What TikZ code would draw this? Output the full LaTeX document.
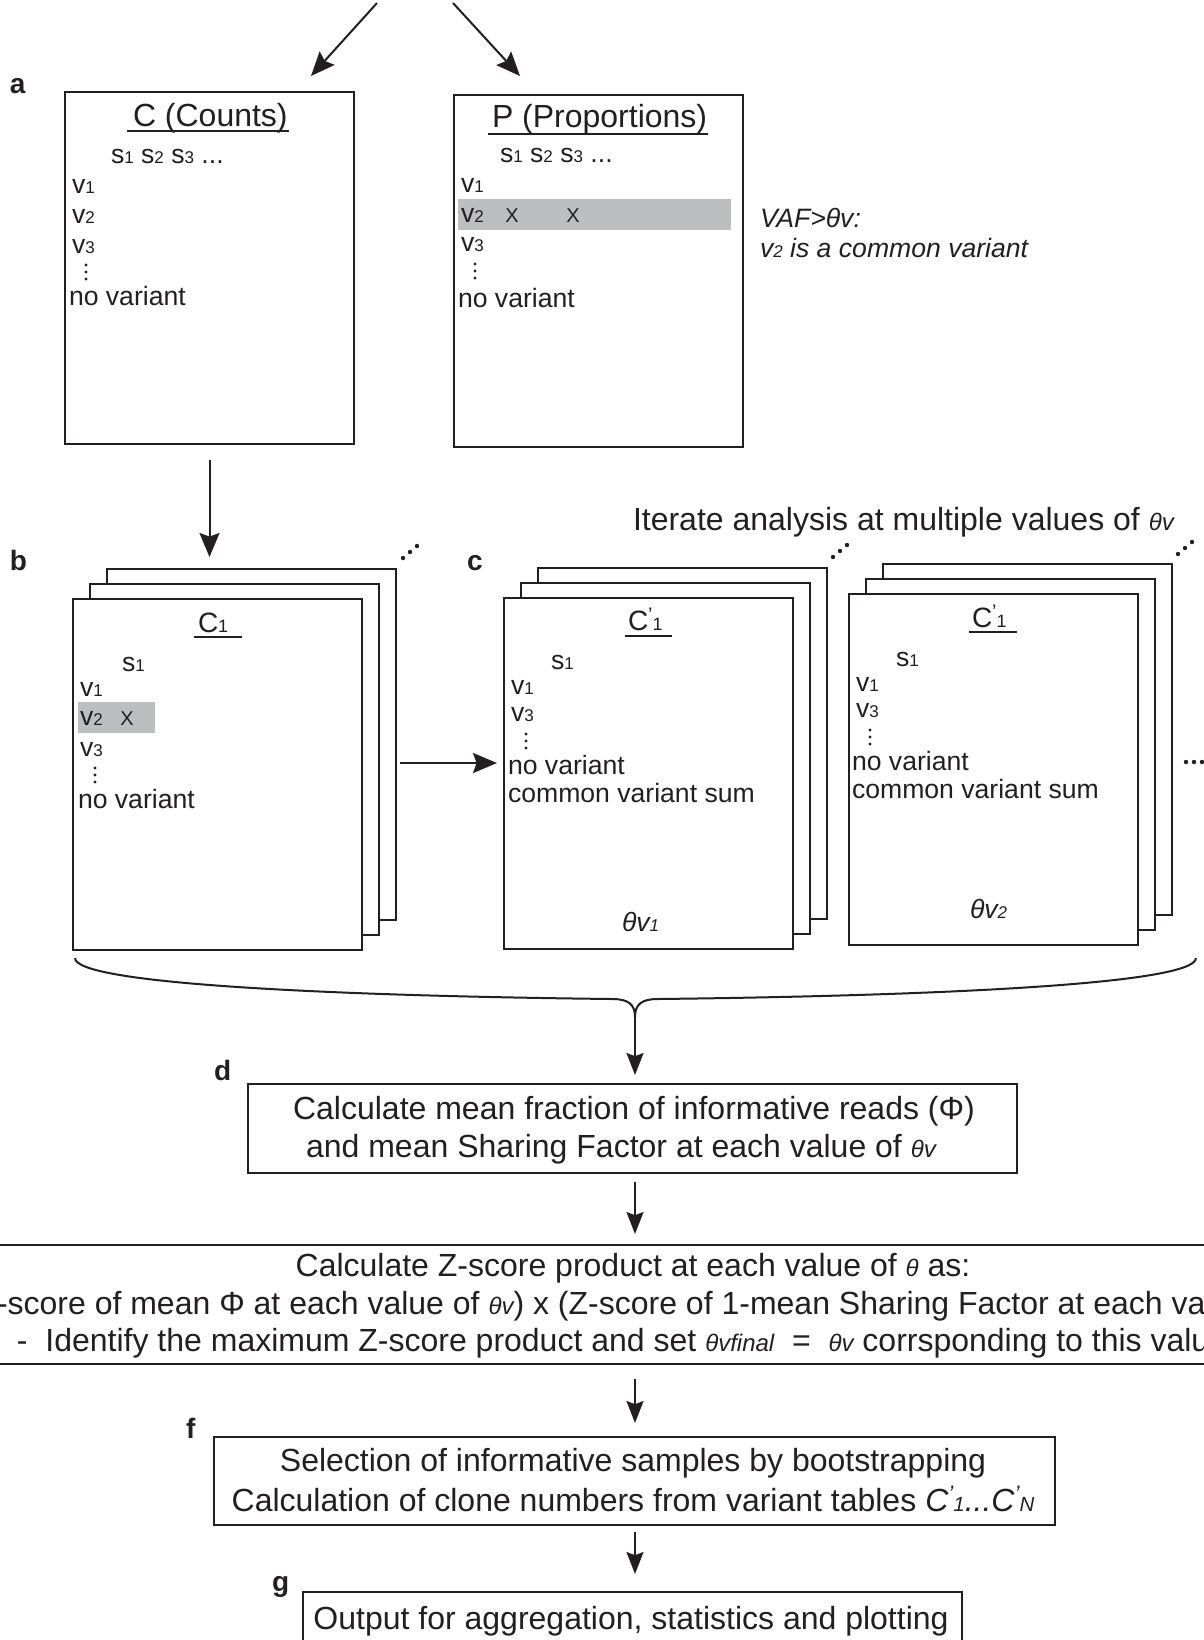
\documentclass[tikz,border=0pt]{standalone}
\usepackage{fontspec}
\setmainfont{Liberation Sans}
\usepackage{graphicx}
\usetikzlibrary{arrows.meta,fit}
\definecolor{ink}{RGB}{35,31,32}
\definecolor{band}{RGB}{188,190,192}
\newcommand\sbx[1]{\scalebox{0.64}{#1}}
\newcommand\tck{\raisebox{0.3em}{\scalebox{0.7}{\symbol{39}}}}
\newcommand\Cprx[1]{C\tck\sbx{#1}}
\newcommand\fbig{\fontsize{16pt}{19pt}\selectfont}
\newcommand\fmid{\fontsize{13.3pt}{16pt}\selectfont}
\newcommand\fttl{\fontsize{16pt}{18pt}\selectfont}
\newcommand\fct{\fontsize{14pt}{16pt}\selectfont}
\newcommand\flab{\fontsize{14pt}{16pt}\selectfont\bfseries}
\newcommand\fx{\fontsize{10pt}{12pt}\selectfont}
\newcommand\thsm[1]{\scalebox{0.75}{\itshape #1}}
\tikzset{
  box/.style={draw=ink, line width=1.4pt, fill=white, inner sep=0pt, outer sep=0pt},
  txt/.style={inner sep=0pt, outer sep=0pt, text=ink, anchor=base west},
  ctxt/.style={inner sep=0pt, outer sep=0pt, text=ink, anchor=base},
  ul/.style={draw=ink, line width=0.75pt},
  arrbig/.style={draw=ink, line width=1pt, -{Stealth[length=12pt,width=10pt,inset=1.8pt]}},
  arrsm/.style={draw=ink, line width=1pt, -{Stealth[length=11pt,width=8.5pt,inset=1.6pt]}},
  bandbox/.style={fill=band, inner sep=0pt, outer sep=0pt},
}
\begin{document}
\begin{tikzpicture}[x=0.5pt,y=-0.5pt]
\useasboundingbox (0,0) rectangle (1204,1640);
\clip (0,0) rectangle (1204,1640);
\fill[white] (0,0) rectangle (1204,1640);

% ---------- top arrows ----------
\coordinate (tAs) at (377,3);
\coordinate (tAe) at (311,76);
\coordinate (tBs) at (453,3);
\coordinate (tBe) at (520,76);
\draw[arrbig] (tAs) -- (tAe);
\draw[arrbig] (tBs) -- (tBe);

% ---------- panel labels ----------
\node[txt, font=\flab] (la) at (10,93) {a};
\node[txt, font=\flab] (lb) at (10,570) {b};
\node[txt, font=\flab] (lc) at (467,570) {c};
\node[txt, font=\flab] (ld) at (214,1080) {d};
\node[txt, font=\flab] (lf) at (186,1438) {f};
\node[txt, font=\flab] (lg) at (272,1591) {g};

% ---------- box C ----------
\node[box, fit={(65,92)(354,444)}] (C) {};
\node[txt, font=\fttl] (Ct) at (133,126) {C (Counts)};
\draw[ul] (127,131) -- (289,131);
\node[txt, font=\fmid] (Cs) at (111,163) {s\sbx{1} s\sbx{2} s\sbx{3} ...};
\node[txt, font=\fmid] (Cv1) at (72,193) {v\sbx{1}};
\node[txt, font=\fmid] (Cv2) at (72,223) {v\sbx{2}};
\node[txt, font=\fmid] (Cv3) at (72,253) {v\sbx{3}};
\foreach \yy in {265,272,279} \fill[ink] (86,\yy) circle[radius=0.85pt];
\node[txt, font=\fmid] (Cnv) at (69,305) {no variant};

% ---------- box P ----------
\node[box, fit={(454,95)(743,447)}] (P) {};
\node[bandbox, fit={(458,199)(731,230)}] (Pband) {};
\node[txt, font=\fttl] (Pt) at (492,127) {P (Proportions)};
\draw[ul] (488,134) -- (708,134);
\node[txt, font=\fmid] (Ps) at (500,162) {s\sbx{1} s\sbx{2} s\sbx{3} ...};
\node[txt, font=\fmid] (Pv1) at (461,192) {v\sbx{1}};
\node[txt, font=\fmid] (Pv2) at (461,222) {v\sbx{2}};
\node[ctxt, font=\fx] (PX1) at (512,222) {X};
\node[ctxt, font=\fx] (PX2) at (573,222) {X};
\node[txt, font=\fmid] (Pv3) at (461,251) {v\sbx{3}};
\foreach \yy in {264,271,278} \fill[ink] (475,\yy) circle[radius=0.85pt];
\node[txt, font=\fmid] (Pnv) at (458,307) {no variant};

\node[txt, font=\fmid\itshape] (vaf1) at (760,227) {VAF>θv:};
\node[txt, font=\fmid\itshape] (vaf2) at (760,257) {v\sbx{2} is a common variant};

% ---------- stack b ----------
\node[box, fit={(107,569)(396,920)}] (sb3) {};
\node[box, fit={(90,584)(379,935)}] (sb2) {};
\node[box, fit={(73,599)(362,950)}] (sb1) {};
\node[bandbox, fit={(78,702)(155,733)}] (bband) {};
\node[txt, font=\fct] (bt) at (198,632) {C\sbx{1}};
\draw[ul] (194,637) -- (242,637);
\node[txt, font=\fmid] (bs) at (122,671) {s\sbx{1}};
\node[txt, font=\fmid] (bv1) at (80,696) {v\sbx{1}};
\node[txt, font=\fmid] (bv2) at (80,725) {v\sbx{2}};
\node[ctxt, font=\fx] (bX) at (127,725) {X};
\node[txt, font=\fmid] (bv3) at (80,756) {v\sbx{3}};
\foreach \yy in {768,775,782} \fill[ink] (95,\yy) circle[radius=0.85pt];
\node[txt, font=\fmid] (bnv) at (78,808) {no variant};
\foreach \xx/\yy in {403/558,410/552,417/546} \fill[ink] (\xx,\yy) circle[radius=1.1pt];

% ---------- stack c ----------
\node[box, fit={(538,568)(827,919)}] (sc3) {};
\node[box, fit={(521,583)(810,934)}] (sc2) {};
\node[box, fit={(504,598)(793,949)}] (sc1) {};
\node[txt, font=\fct] (ct) at (628,630) {\Cprx{1}};
\draw[ul] (625,636) -- (672,636);
\node[txt, font=\fmid] (cs) at (551,669) {s\sbx{1}};
\node[txt, font=\fmid] (cv1) at (511,694) {v\sbx{1}};
\node[txt, font=\fmid] (cv3) at (511,721) {v\sbx{3}};
\foreach \yy in {734,741,748} \fill[ink] (526,\yy) circle[radius=0.85pt];
\node[txt, font=\fmid] (cnv) at (508,774) {no variant};
\node[txt, font=\fmid] (ccv) at (508,802) {common variant sum};
\node[txt, font=\fmid\itshape] (cth) at (622,931) {θv\sbx{1}};
\foreach \xx/\yy in {833/557,840/551,847/545} \fill[ink] (\xx,\yy) circle[radius=1.1pt];

% ---------- stack c (second) ----------
\node[box, fit={(883,564)(1172,915)}] (sd3) {};
\node[box, fit={(866,579)(1155,930)}] (sd2) {};
\node[box, fit={(849,594)(1138,945)}] (sd1) {};
\node[txt, font=\fct] (dt) at (972,627) {\Cprx{1}};
\draw[ul] (969,632) -- (1017,632);
\node[txt, font=\fmid] (ds) at (896,666) {s\sbx{1}};
\node[txt, font=\fmid] (dv1) at (856,691) {v\sbx{1}};
\node[txt, font=\fmid] (dv3) at (856,717) {v\sbx{3}};
\foreach \yy in {730,737,744} \fill[ink] (870,\yy) circle[radius=0.85pt];
\node[txt, font=\fmid] (dnv) at (852,770) {no variant};
\node[txt, font=\fmid] (dcv) at (852,798) {common variant sum};
\node[txt, font=\fmid\itshape] (dth) at (970,918) {θv\sbx{2}};
\foreach \xx/\yy in {1178/554,1185/548,1192/542} \fill[ink] (\xx,\yy) circle[radius=1.1pt];
\foreach \xx in {1186,1194,1202} \fill[ink] (\xx,762) circle[radius=1.1pt];

\node[txt, font=\fbig] (iter) at (633,530) {Iterate analysis at multiple values of \thsm{θv}};

% ---------- arrows a -> b -> c ----------
\coordinate (ay) at (0,763);
\draw[arrbig, shorten <=8pt, shorten >=6pt] (C.south) -- (C.south |- sb3.north);
\draw[arrbig, shorten <=2pt, shorten >=3.5pt] (sb3.east |- ay) -- (sc1.west |- ay);

% ---------- brace ----------
\coordinate (bl) at (75,958);
\coordinate (br) at (1196,958);
\coordinate (btip) at (635,1017);
\draw[ink, line width=1pt] (bl) .. controls (75,985) and (350,996) .. (612,999)
      .. controls (628,999) and (635,1004) .. (btip);
\draw[ink, line width=1pt] (br) .. controls (1196,985) and (920,996) .. (658,999)
      .. controls (642,999) and (635,1004) .. (btip);

% ---------- box d ----------
\node[box, fit={(248,1084)(1017,1173)}] (D) {};
\node[ctxt, font=\fbig] (d1) at (634,1119) {Calculate mean fraction of informative reads (Φ)};
\node[ctxt, font=\fbig] (d2) at (621,1157) {and mean Sharing Factor at each value of \thsm{θv}};
\draw[arrsm, shorten >=4.5pt] (btip) -- (D.north -| btip);

% ---------- box e ----------
\node[box, fit={(-20,1245)(1224,1364)}] (E) {};
\node[ctxt, font=\fbig] (e1) at (633,1276) {Calculate Z-score product at each value of \thsm{θ} as:};
\node[txt, font=\fbig] (e2) at (-3,1314) {-score of mean Φ at each value of \thsm{θv}) x (Z-score of 1-mean Sharing Factor at each va};
\node[txt, font=\fbig] (e3) at (17,1351) {-\ \ Identify the maximum Z-score product and set \thsm{θvfinal}\ \ =\ \ \thsm{θv} corrsponding to this valu};
\draw[arrsm, shorten <=4.5pt, shorten >=5.5pt] (D.south -| btip) -- (E.north -| btip);

% ---------- box f ----------
\node[box, fit={(214,1437)(1055,1525)}] (F) {};
\node[ctxt, font=\fbig] (f1) at (633,1471) {Selection of informative samples by bootstrapping};
\node[ctxt, font=\fbig] (f2) at (633,1511) {Calculation of clone numbers from variant tables {\itshape\Cprx{1}...\Cprx{N}}};
\draw[arrsm, shorten <=7.5pt, shorten >=7pt] (E.south -| btip) -- (F.north -| btip);

% ---------- box g ----------
\node[box, fit={(303,1592)(962,1660)}] (G) {};
\node[ctxt, font=\fbig] (g1) at (631,1629) {Output for aggregation, statistics and plotting};
\draw[arrsm, shorten <=3.5pt, shorten >=9pt] (F.south -| btip) -- (G.north -| btip);
\end{tikzpicture}
\end{document}
